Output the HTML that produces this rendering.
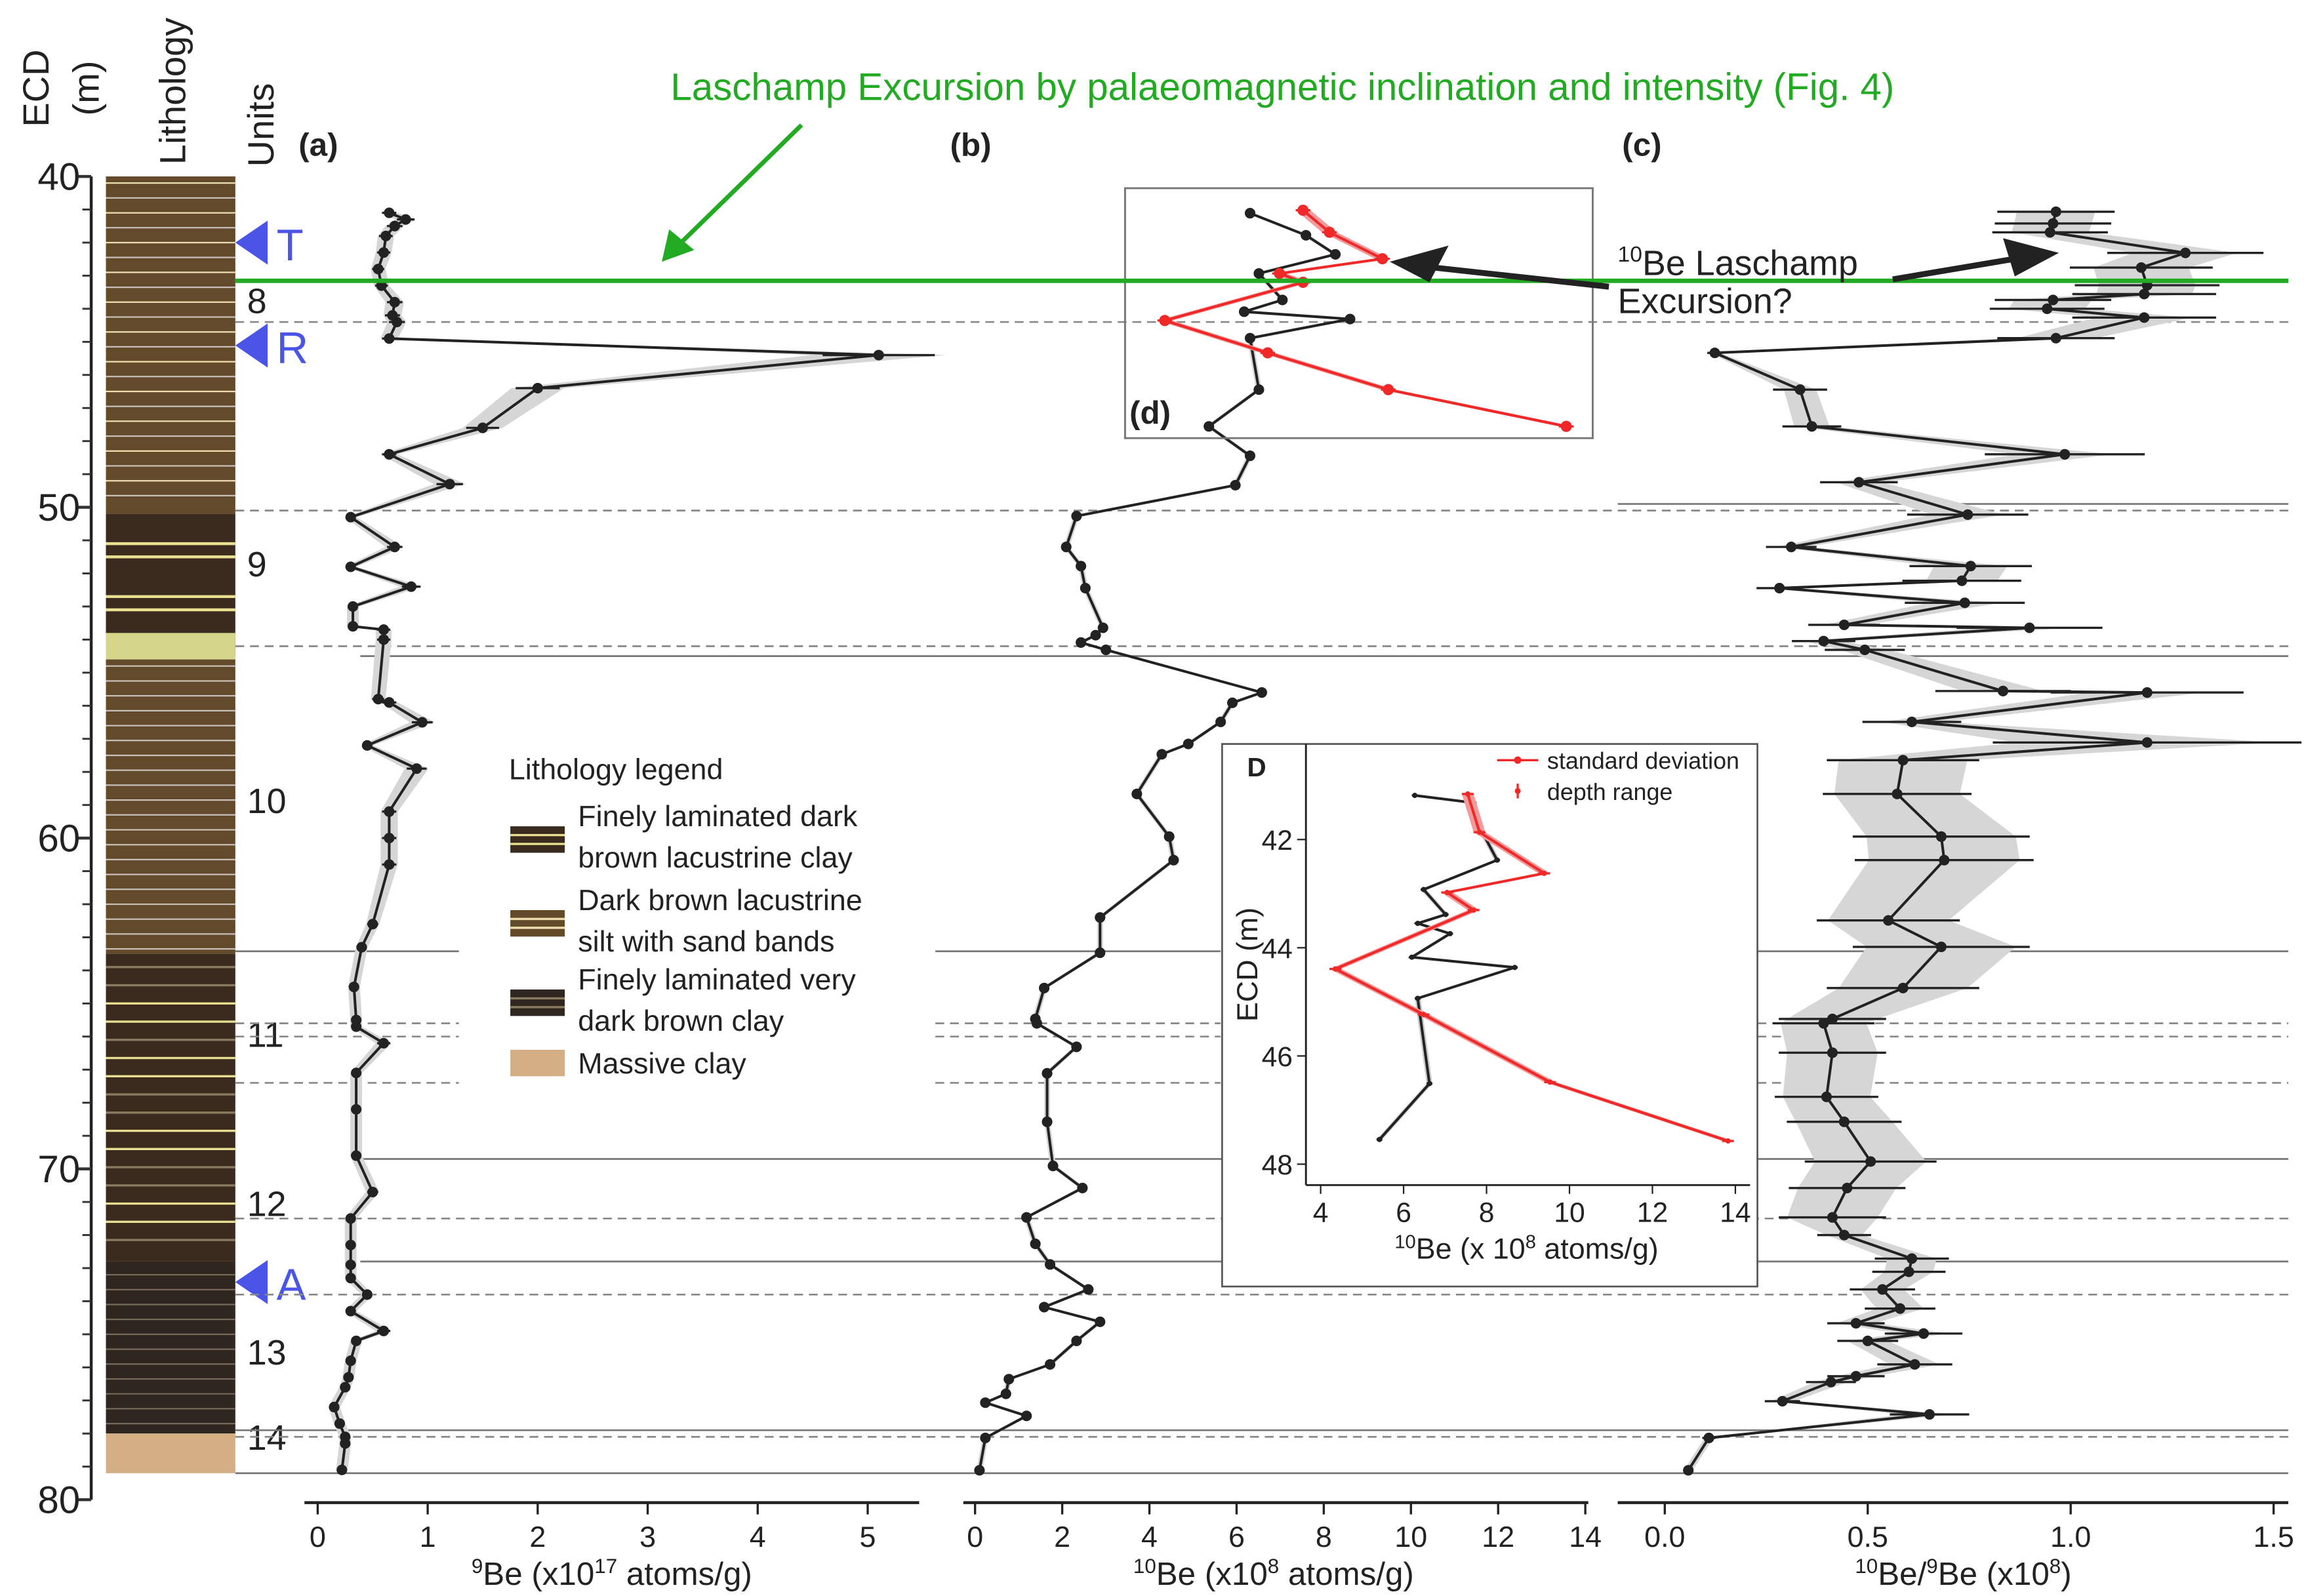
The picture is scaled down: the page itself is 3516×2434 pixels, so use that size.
<!DOCTYPE html>
<html><head><meta charset="utf-8"><style>
html,body{margin:0;padding:0;background:#fff}
svg{display:block}
text{font-family:"Liberation Sans",sans-serif;fill:#222}
</style></head><body>
<svg id="s" width="3516" height="2434" viewBox="0 0 1568 1085.5" xmlns="http://www.w3.org/2000/svg"></svg>
<script>
const S=document.getElementById('s');let h='';
const Y=d=>120+(d-40)*22.5;
function line(x1,y1,x2,y2,st){h+=`<line x1="${x1}" y1="${y1}" x2="${x2}" y2="${y2}" style="${st}"/>`;}
function txt(x,y,s,t,st=''){h+=`<text x="${x}" y="${y}" font-size="${s}" style="${st}">${t}</text>`;}
const br='#634a2b',dk='#3a2b1e',vd='#302620';
h+=`<rect x="72" y="${Y(40)}" width="88" height="${Y(50.2)-Y(40)}" fill="${br}"/>`;
h+=`<rect x="72" y="${Y(50.2)}" width="88" height="${Y(54.5)-Y(50.2)}" fill="${dk}"/>`;
h+=`<rect x="72" y="${Y(53.8)}" width="88" height="${Y(54.6)-Y(53.8)}" fill="#d6d68a"/>`;
h+=`<rect x="72" y="${Y(54.6)}" width="88" height="${Y(63.5)-Y(54.6)}" fill="${br}"/>`;
h+=`<rect x="72" y="${Y(63.5)}" width="88" height="${Y(72.8)-Y(63.5)}" fill="${dk}"/>`;
h+=`<rect x="72" y="${Y(72.8)}" width="88" height="${Y(78)-Y(72.8)}" fill="${vd}"/>`;
h+=`<rect x="72" y="${Y(78)}" width="88" height="${Y(79.2)-Y(78)}" fill="#d4ae85"/>`;
for(let d=40.2;d<50;d+=0.45)line(72,Y(d),160,Y(d),`stroke:${(Math.round(d*10)%3==0)?'#eedfb0':'#c8c0b8'};stroke-width:1`);
for(let d=54.8;d<63.4;d+=0.45)line(72,Y(d),160,Y(d),'stroke:#c8c0b8;stroke-width:1');
[51.1,51.5,52.7,53.1].forEach(d=>line(72,Y(d),160,Y(d),'stroke:#e8e090;stroke-width:2'));
for(let d=63.9;d<72.6;d+=0.55)line(72,Y(d),160,Y(d),`stroke:${(Math.round(d*10)%2==0)?'#e8e090':'#8a7a60'};stroke-width:1.5`);
for(let d=73.2;d<78;d+=0.45)line(72,Y(d),160,Y(d),'stroke:#776a5a;stroke-width:1');
line(62,Y(40),62,Y(80),'stroke:#222;stroke-width:2');
for(let d=40;d<=80;d++){const m=d%10==0;line(m?52:56,Y(d),62,Y(d),`stroke:#333;stroke-width:${m?2:1.3}`);}
[40,50,60,70,80].forEach(d=>txt(40,Y(d)+9,26,d,'text-anchor:middle'));
h+=`<text transform="translate(33,60) rotate(-90)" font-size="25" text-anchor="middle">ECD</text>`;
h+=`<text transform="translate(67,60) rotate(-90)" font-size="25" text-anchor="middle">(m)</text>`;
h+=`<text transform="translate(126,62) rotate(-90)" font-size="25" text-anchor="middle">Lithology</text>`;
h+=`<text transform="translate(186,85) rotate(-90)" font-size="25" text-anchor="middle">Units</text>`;
txt(203,106,22,'(a)','font-weight:bold');txt(646,106,22,'(b)','font-weight:bold');txt(1103,106,22,'(c)','font-weight:bold');
[[8,213],[9,392],[10,553],[11,712],[12,827],[13,928],[14,986]].forEach(([u,y])=>txt(168,y,24,u));
[['T',165],['R',235],['A',872]].forEach(([l,y])=>{h+=`<polygon points="160,${y} 182,${y-15} 182,${y+15}" fill="#4a55e8"/>`;txt(188,y+12,30,l,'fill:#4a55e8');});
[[Y(49.9),1100],[Y(54.5),245],[Y(69.7),245],[Y(72.8),245],[Y(77.9),160],[Y(79.2),160]].forEach(([y,x])=>line(x,y,1556,y,'stroke:#777;stroke-width:1.2'));
line(160,647,312,647,'stroke:#777;stroke-width:1.2');line(636,647,830,647,'stroke:#777;stroke-width:1.2');line(1195,647,1556,647,'stroke:#777;stroke-width:1.2');
[44.4,50.1,54.2,65.6,66,67.4,71.5,73.8,78.1].forEach(d=>{const y=Y(d);if(d>=65&&d<=67.5){line(160,y,312,y,'stroke:#888;stroke-width:1.2;stroke-dasharray:6,4');line(636,y,830,y,'stroke:#888;stroke-width:1.2;stroke-dasharray:6,4');line(1195,y,1556,y,'stroke:#888;stroke-width:1.2;stroke-dasharray:6,4');}else line(160,y,1556,y,'stroke:#888;stroke-width:1.2;stroke-dasharray:6,4');});
function xaxis(x0,x1,ticks){line(x0,1022,x1,1022,'stroke:#222;stroke-width:2');ticks.forEach(([x,t])=>{line(x,1022,x,1030,'stroke:#222;stroke-width:1.5');txt(x,1052,20,t,'text-anchor:middle');});}
xaxis(207,625,[0,1,2,3,4,5].map(v=>[216+v*74.8,v]));
xaxis(655,1080,[0,2,4,6,8,10,12,14].map(v=>[663+v*29.64,v]));
xaxis(1100,1556,[[1132,'0.0'],[1270,'0.5'],[1408,'1.0'],[1546,'1.5']]);
txt(416,1078,22,'<tspan font-size="14" dy="-8">9</tspan><tspan dy="8">Be (x10</tspan><tspan font-size="14" dy="-8">17</tspan><tspan dy="8"> atoms/g)</tspan>','text-anchor:middle');
txt(866,1078,22,'<tspan font-size="14" dy="-8">10</tspan><tspan dy="8">Be (x10</tspan><tspan font-size="14" dy="-8">8</tspan><tspan dy="8"> atoms/g)</tspan>','text-anchor:middle');
txt(1335,1078,22,'<tspan font-size="14" dy="-8">10</tspan><tspan dy="8">Be/</tspan><tspan font-size="14" dy="-8">9</tspan><tspan dy="8">Be (x10</tspan><tspan font-size="14" dy="-8">8</tspan><tspan dy="8">)</tspan>','text-anchor:middle');
function series(pts,ew,col,bandcol,r,bw){bw=bw||ew;let L=pts.map(p=>[p[0]-bw(p),p[1]]),R=pts.map(p=>[p[0]+bw(p),p[1]]).reverse();
h+=`<polygon points="${L.concat(R).map(p=>p.join(',')).join(' ')}" fill="${bandcol}"/>`;
pts.forEach(p=>line(p[0]-ew(p),p[1],p[0]+ew(p),p[1],`stroke:${col};stroke-width:1.5`));
h+=`<polyline points="${pts.map(p=>p.join(',')).join(' ')}" fill="none" stroke="${col}" stroke-width="1.8"/>`;
pts.forEach(p=>h+=`<circle cx="${p[0]}" cy="${p[1]}" r="${r}" fill="${col}"/>`);}
const A=[[41.1,.65],[41.3,.8],[41.5,.7],[41.8,.62],[42.3,.6],[42.8,.55],[43.3,.58],[43.8,.7],[44.2,.68],[44.4,.72],[44.9,.65],[45.4,5.1],[46.4,2.0],[47.6,1.5],[48.4,.65],[49.3,1.2],[50.3,.3],[51.2,.7],[51.8,.3],[52.4,.85],[53,.32],[53.6,.32],[53.7,.6],[54,.6],[55.8,.55],[55.9,.65],[56.5,.95],[57.2,.45],[57.9,.9],[59.2,.65],[60,.65],[60.8,.65],[62.6,.5],[63.3,.4],[64.5,.33],[65.5,.35],[65.7,.35],[66.2,.6],[67.1,.35],[68.2,.35],[69.6,.35],[70.7,.5],[71.5,.3],[72.3,.3],[72.9,.3],[73.3,.3],[73.8,.45],[74.3,.3],[74.9,.6],[75.2,.35],[75.8,.3],[76.3,.28],[76.6,.25],[77.2,.15],[77.7,.2],[78.1,.25],[78.3,.25],[79.1,.22]].map(([d,v])=>[216+v*74.8,Y(d)]);
series(A,p=>Math.max(2.5,(p[0]-216)*0.1),'#222','#d6d6d6',3.6,p=>Math.max(4,(p[0]-216)*0.12));
const B=[[850,145],[888,160],[908,173],[856,186],[872,204],[846,212],[918,217],[850,230],[856,265],[822,290],[850,310],[840,330],[732,351],[725,372],[735,385],[738,400],[750,427],[745,432],[735,437],[752,442],[858,471],[838,478],[830,491],[808,506],[790,513],[773,540],[795,569],[798,585],[748,624],[748,648],[710,672],[704,693],[705,696],[732,712],[712,730],[712,763],[716,793],[736,808],[698,828],[704,846],[714,860],[740,877],[710,889],[748,899],[732,912],[714,928],[686,938],[684,948],[670,954],[698,963],[670,978],[666,1000]];
series(B,p=>2,'#222','#d6d6d6',3.6);
h+=`<rect x="765" y="128" width="318" height="170" fill="none" stroke="#777" stroke-width="1.3"/>`;
txt(768,288,22,'(d)','font-weight:bold');
series([[886,143],[904,158],[940,176],[870,186],[886,192],[792,218],[862,240],[944,265],[1065,290]],p=>5,'#f02828','#f49a9a',3.8);
const C=[[1398,144],[1396,152],[1394,158],[1486,172],[1456,182],[1460,194],[1458,200],[1396,204],[1392,210],[1458,216],[1398,230],[1166,240],[1224,265],[1232,290],[1404,309],[1264,328],[1338,350],[1218,372],[1340,385],[1334,395],[1210,400],[1336,410],[1254,425],[1380,427],[1240,436],[1268,442],[1362,470],[1460,471],[1300,491],[1460,505],[1294,517],[1290,540],[1320,569],[1322,585],[1284,626],[1320,644],[1294,672],[1246,693],[1240,696],[1246,716],[1242,746],[1254,763],[1272,790],[1256,808],[1246,828],[1254,840],[1300,856],[1298,865],[1280,877],[1292,890],[1262,900],[1308,907],[1270,912],[1302,928],[1262,936],[1245,940],[1212,953],[1312,962],[1162,978],[1148,1000]];
series(C,p=>{const y=p[1];let f=y>500&&y<830?0.32:(y>240&&y<500?0.2:0.15);return Math.max(3,(p[0]-1132)*f);},'#222','#d6d6d6',3.6,p=>{const y=p[1];let f=y>500&&y<830?0.27:(y>240&&y<500?0.12:0.1);return Math.max(3,(p[0]-1132)*f);});
line(160,191,1556,191,'stroke:#22aa22;stroke-width:3');
txt(872,68,26,'Laschamp Excursion by palaeomagnetic inclination and intensity (Fig. 4)','fill:#22aa22;text-anchor:middle');
line(545,85,458,170,'stroke:#22aa22;stroke-width:3');h+=`<polygon points="450,178 455,156 472,170" fill="#22aa22"/>`;
txt(1100,187,24,'<tspan font-size="15" dy="-9">10</tspan><tspan dy="9">Be Laschamp</tspan>');
txt(1100,213,24,'Excursion?');
line(1094,195,975,182,'stroke:#222;stroke-width:4');h+=`<polygon points="945,178 985,167 972,192" fill="#222"/>`;
line(1287,190,1370,176,'stroke:#222;stroke-width:4');h+=`<polygon points="1400,172 1362,162 1370,188" fill="#222"/>`;
txt(346,530,20,'Lithology legend');
[[dk,'#e8e090',562,'Finely laminated dark','brown lacustrine clay'],[br,'#eedfb0',619,'Dark brown lacustrine','silt with sand bands'],[vd,'#8a7a60',673,'Finely laminated very','dark brown clay']].forEach(([c,lc,y,a,b])=>{h+=`<rect x="347" y="${y}" width="37" height="18" fill="${c}"/>`;line(347,y+6,384,y+6,`stroke:${lc};stroke-width:1.5`);line(347,y+12,384,y+12,`stroke:${lc};stroke-width:1.5`);txt(393,y+0,20,a);txt(393,y+28,20,b);});
h+=`<rect x="347" y="714" width="37" height="18" fill="#d4ae85"/>`;txt(393,730,20,'Massive clay');
h+=`<rect x="831" y="506" width="364" height="369" fill="#fff" stroke="#555" stroke-width="1.2"/>`;
line(888,506,888,806,'stroke:#222;stroke-width:1.3');line(888,806,1190,806,'stroke:#222;stroke-width:1.3');
[4,6,8,10,12,14].forEach(v=>{const x=898+(v-4)*28.2;line(x,806,x,812,'stroke:#222');txt(x,831,19,v,'text-anchor:middle');});
[42,44,46,48].forEach(v=>{const y=571+(v-42)*36.8;line(882,y,888,y,'stroke:#222');txt(879,y+7,19,v,'text-anchor:end');});
h+=`<text transform="translate(855,656) rotate(-90)" font-size="20" text-anchor="middle">ECD (m)</text>`;
txt(1038,856,20,'<tspan font-size="13" dy="-7">10</tspan><tspan dy="7">Be (x 10</tspan><tspan font-size="13" dy="-7">8</tspan><tspan dy="7"> atoms/g)</tspan>','text-anchor:middle');
txt(848,528,18,'D','font-weight:bold');
series([[962,541],[1002,546],[1000,551],[1018,585],[968,605],[983,622],[964,628],[986,635],[960,651],[1030,658],[964,679],[972,737],[938,775]],p=>2,'#222','#ccc',1.8);
series([[998,540],[1006,566],[1050,594],[984,607],[1002,619],[908,659],[968,690],[1054,736],[1175,776]],p=>4,'#f02828','#f49a9a',1.8);
line(1018,517,1046,517,'stroke:#f02828;stroke-width:1.5');h+=`<circle cx="1032" cy="517" r="2.5" fill="#f02828"/>`;txt(1052,523,16,'standard deviation');
line(1032,533,1032,543,'stroke:#f02828;stroke-width:1.5');h+=`<circle cx="1032" cy="538" r="2" fill="#f02828"/>`;txt(1052,544,16,'depth range');
S.innerHTML=h;
</script>
</body></html>
